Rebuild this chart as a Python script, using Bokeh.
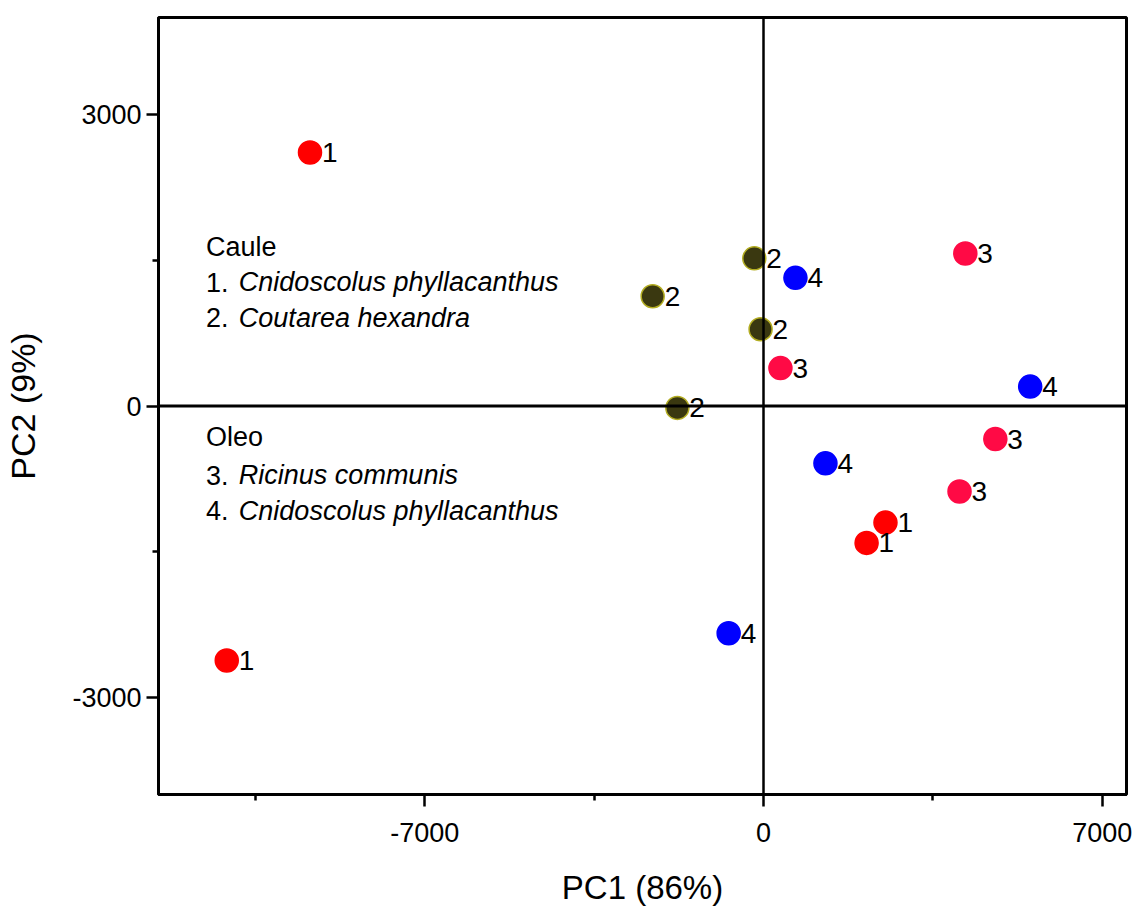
from bokeh.plotting import figure
from bokeh.models import FixedTicker, Span, Range1d
from bokeh.core.properties import value
from bokeh.embed import file_html
from bokeh.resources import INLINE

# ---- data ----
g1_x = [-9370, -11090, 2520, 2130]
g1_y = [2610, -2620, -1200, -1410]
g2_x = [-190, -2290, -60, -1780]
g2_y = [1520, 1130, 790, -20]
g3_x = [4170, 350, 4790, 4050]
g3_y = [1570, 390, -340, -880]
g4_x = [660, 5510, 1280, -720]
g4_y = [1320, 200, -590, -2340]

group_ids = ["1", "2", "3", "4"]
group_fill = ["#ff0000", "#3a3810", "#ff0a45", "#0000ff"]
group_line = ["#ff0000", "#b3ad22", "#ff0a45", "#0000ff"]

x_ticks = [-7000, 0, 7000]
x_minor = [-10500, -3500, 3500]
y_ticks = [-3000, 0, 3000]
y_minor = [-1500, 1500]

legend_heads = ["Caule", "Oleo"]
legend_nums = ["1.", "2.", "3.", "4."]
legend_names = ["Cnidoscolus phyllacanthus", "Coutarea hexandra",
                "Ricinus communis", "Cnidoscolus phyllacanthus"]

FONT = "Liberation Sans"

p = figure(width=1136, height=908, output_backend="svg", toolbar_location=None,
           x_range=Range1d(-12500, 7500), y_range=Range1d(-4000, 4000),
           min_border_left=158, min_border_right=10, min_border_top=17,
           min_border_bottom=113)
p.grid.visible = False
p.background_fill_color = "white"
p.border_fill_color = "white"
p.outline_line_color = "black"
p.outline_line_width = 3

for ax in (p.xaxis[0], p.yaxis[0]):
    ax.axis_line_width = 3
    ax.axis_line_color = "black"
    ax.major_tick_line_width = 2.5
    ax.minor_tick_line_width = 2.5
    ax.major_tick_out = 12
    ax.major_tick_in = 0
    ax.minor_tick_out = 6
    ax.minor_tick_in = 0
    ax.major_label_text_font = FONT
    ax.major_label_text_font_size = "27px"
    ax.major_label_text_color = "black"
    ax.axis_label_text_font = FONT
    ax.axis_label_text_font_style = "normal"
    ax.axis_label_text_color = "black"

p.xaxis.major_label_standoff = 16
p.yaxis.major_label_standoff = 5

p.xaxis.ticker = FixedTicker(ticks=x_ticks, minor_ticks=x_minor)
p.yaxis.ticker = FixedTicker(ticks=y_ticks, minor_ticks=y_minor)
p.xaxis.major_label_overrides = {t: str(t) for t in x_ticks}
p.yaxis.major_label_overrides = {t: str(t) for t in y_ticks}
p.yaxis.major_label_orientation = "horizontal"

p.xaxis.axis_label = "PC1 (86%)"
p.xaxis.axis_label_text_font_size = "33px"
p.xaxis.axis_label_standoff = 24

p.yaxis.axis_label = "PC2 (9%)"
p.yaxis.axis_label_text_font_size = "34px"
p.yaxis.axis_label_standoff = 27

# crosshair lines
p.add_layout(Span(location=0, dimension="height", line_color="black", line_width=2.5))
p.add_layout(Span(location=0, dimension="width", line_color="black", line_width=3))

xs = [g1_x, g2_x, g3_x, g4_x]
ys = [g1_y, g2_y, g3_y, g4_y]
for gx, gy, gid, fc, lc in zip(xs, ys, group_ids, group_fill, group_line):
    p.scatter(gx, gy, size=23, fill_color=fc, line_color=lc, line_width=1.5)
    p.text(gx, gy, text=[gid] * len(gx), x_offset=12, text_baseline="middle",
           text_align="left", text_font=value(FONT), text_font_size="28px",
           text_color="black")

# legend-like annotation text
lx_num = -11520
lx_name = -10840
head_y = [1640, -320]
line_y = [1275, 910, -715, -1080]
p.text([lx_num] * 2, head_y, text=legend_heads, text_baseline="middle",
       text_font=value(FONT), text_font_size="27px", text_color="black")
p.text([lx_num] * 4, line_y, text=legend_nums, text_baseline="middle",
       text_font=value(FONT), text_font_size="27px", text_color="black")
p.text([lx_name] * 4, line_y, text=legend_names, text_baseline="middle",
       text_font=value(FONT), text_font_size="27px", text_font_style="italic",
       text_color="black")

open("out.html", "w").write(file_html(p, INLINE))
